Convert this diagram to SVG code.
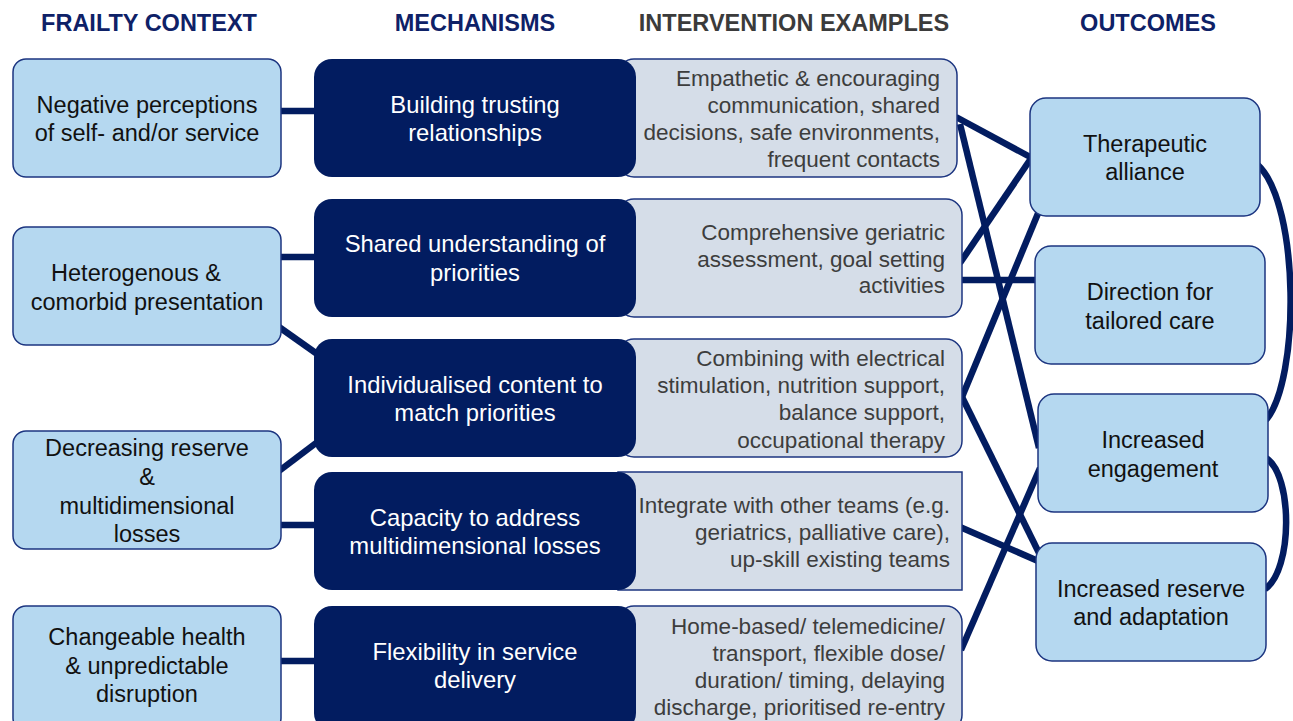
<svg xmlns="http://www.w3.org/2000/svg" width="1293" height="721" viewBox="0 0 1293 721">
<style>
.hd{font-family:"Liberation Sans",Arial,sans-serif;font-weight:bold;font-size:23.5px;text-anchor:middle}
.ctx rect{fill:#b5d8f0;stroke:#1c3580;stroke-width:1.5}
.ctx text{font-family:"Liberation Sans",Arial,sans-serif;font-size:23.5px;fill:#111;text-anchor:middle}
.mech rect{fill:#021c60;stroke:none}
.mech text{font-family:"Liberation Sans",Arial,sans-serif;font-size:23.8px;fill:#fff;text-anchor:middle}
.int rect{fill:#d5dde8;stroke:#1c3580;stroke-width:1.5}
.int text{font-family:"Liberation Sans",Arial,sans-serif;font-size:22.5px;fill:#3d3d3d;text-anchor:end}
.out rect{fill:#b5d8f0;stroke:#1c3580;stroke-width:1.5}
.out text{font-family:"Liberation Sans",Arial,sans-serif;font-size:23.5px;fill:#111;text-anchor:middle}
#connectors line,#connectors path{stroke:#021c60;stroke-width:6.5;fill:none}
</style>
<rect width="1293" height="721" fill="#fff"/>
<g id="headers">
<text class="hd" x="149" y="30.5" fill="#0e2167">FRAILTY CONTEXT</text>
<text class="hd" x="475" y="30.5" fill="#0e2167">MECHANISMS</text>
<text class="hd" x="794" y="30.5" fill="#3b3b3b">INTERVENTION EXAMPLES</text>
<text class="hd" x="1148" y="30.5" fill="#0e2167">OUTCOMES</text>
</g>
<g id="connectors">
<line x1="281" y1="111" x2="316" y2="111"/>
<line x1="281" y1="257" x2="316" y2="257"/>
<line x1="279" y1="327" x2="320" y2="356"/>
<line x1="279" y1="471" x2="320" y2="440"/>
<line x1="281" y1="525" x2="316" y2="525"/>
<line x1="281" y1="661" x2="316" y2="661"/>
<line x1="956" y1="117" x2="1032" y2="158"/>
<line x1="960" y1="124" x2="1039" y2="448"/>
<line x1="960" y1="263" x2="1032" y2="157"/>
<line x1="960" y1="280" x2="1037" y2="280"/>
<line x1="962" y1="397" x2="1039" y2="211"/>
<line x1="962" y1="397" x2="1040" y2="555"/>
<line x1="960" y1="527" x2="1038" y2="561"/>
<line x1="961" y1="650" x2="1040" y2="468"/>
<path d="M1258,165 C1300,205 1300,380 1266,420"/>
<path d="M1266,458 C1293,475 1293,570 1265,589"/>
</g>
<g id="ctx1" class="ctx"><rect x="13" y="59" width="268" height="118" rx="13"/><text x="147" y="113">Negative perceptions</text><text x="147" y="141">of self- and/or service</text></g>
<g id="ctx2" class="ctx"><rect x="13" y="227" width="268" height="118" rx="13"/><text x="136" y="281">Heterogenous &amp;</text><text x="147" y="310">comorbid presentation</text></g>
<g id="ctx3" class="ctx"><rect x="13" y="431" width="268" height="118" rx="13"/><text x="147" y="456">Decreasing reserve</text><text x="147" y="485">&amp;</text><text x="147" y="514">multidimensional</text><text x="147" y="542">losses</text></g>
<g id="ctx4" class="ctx"><rect x="13" y="606" width="268" height="125" rx="13"/><text x="147" y="645">Changeable health</text><text x="147" y="674">&amp; unpredictable</text><text x="147" y="702">disruption</text></g>
<g id="int1" class="int"><rect x="618" y="59" width="339" height="118" rx="16"/><text x="940" y="86">Empathetic &amp; encouraging</text><text x="940" y="113">communication, shared</text><text x="940" y="140">decisions, safe environments,</text><text x="940" y="167">frequent contacts</text></g>
<g id="int2" class="int"><rect x="618" y="199" width="344" height="118" rx="16"/><text x="945" y="240">Comprehensive geriatric</text><text x="945" y="267">assessment, goal setting</text><text x="945" y="293">activities</text></g>
<g id="int3" class="int"><rect x="618" y="339" width="344" height="118" rx="16"/><text x="945" y="366">Combining with electrical</text><text x="945" y="393">stimulation, nutrition support,</text><text x="945" y="420">balance support,</text><text x="945" y="448">occupational therapy</text></g>
<g id="int4" class="int"><rect x="618" y="472" width="344" height="118"/><text x="950" y="513">Integrate with other teams (e.g.</text><text x="950" y="540">geriatrics, palliative care),</text><text x="950" y="567">up-skill existing teams</text></g>
<g id="int5" class="int"><rect x="618" y="606" width="344" height="125" rx="16"/><text x="945" y="634">Home-based/ telemedicine/</text><text x="945" y="661">transport, flexible dose/</text><text x="945" y="688">duration/ timing, delaying</text><text x="945" y="715">discharge, prioritised re-entry</text></g>
<g id="mech1" class="mech"><rect x="314" y="59" width="322" height="118" rx="18"/><text x="475" y="113">Building trusting</text><text x="475" y="141">relationships</text></g>
<g id="mech2" class="mech"><rect x="314" y="199" width="322" height="118" rx="18"/><text x="475" y="252">Shared understanding of</text><text x="475" y="281">priorities</text></g>
<g id="mech3" class="mech"><rect x="314" y="339" width="322" height="118" rx="18"/><text x="475" y="393">Individualised content to</text><text x="475" y="421">match priorities</text></g>
<g id="mech4" class="mech"><rect x="314" y="472" width="322" height="118" rx="18"/><text x="475" y="526">Capacity to address</text><text x="475" y="554">multidimensional losses</text></g>
<g id="mech5" class="mech"><rect x="314" y="606" width="322" height="125" rx="18"/><text x="475" y="660">Flexibility in service</text><text x="475" y="688">delivery</text></g>
<g id="out1" class="out"><rect x="1030" y="98" width="230" height="118" rx="16"/><text x="1145" y="152">Therapeutic</text><text x="1145" y="180">alliance</text></g>
<g id="out2" class="out"><rect x="1035" y="246" width="230" height="118" rx="16"/><text x="1150" y="300">Direction for</text><text x="1150" y="329">tailored care</text></g>
<g id="out3" class="out"><rect x="1038" y="394" width="230" height="118" rx="16"/><text x="1153" y="448">Increased</text><text x="1153" y="477">engagement</text></g>
<g id="out4" class="out"><rect x="1036" y="543" width="230" height="118" rx="16"/><text x="1151" y="597">Increased reserve</text><text x="1151" y="625">and adaptation</text></g>
</svg>
